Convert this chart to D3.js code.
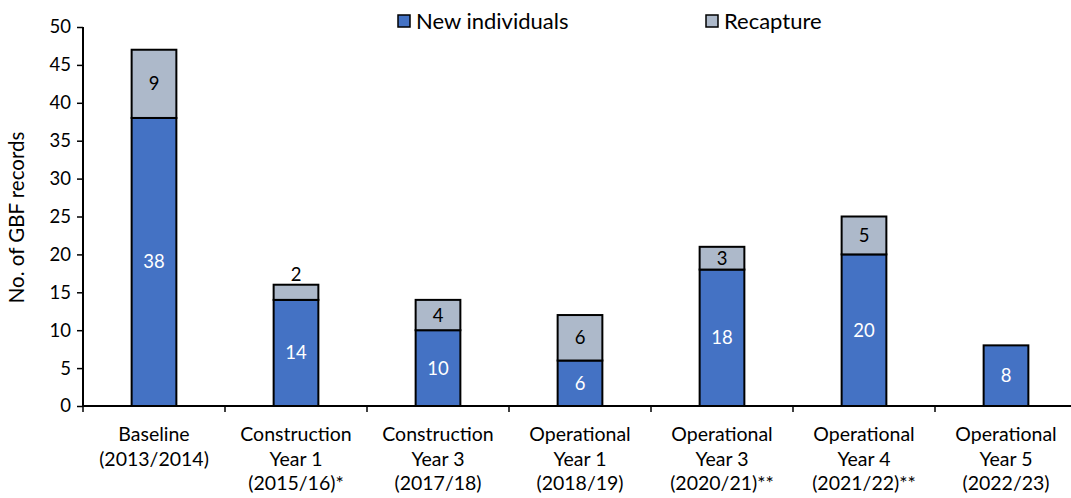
<!DOCTYPE html>
<html>
<head>
<meta charset="utf-8">
<script src="https://cdn.jsdelivr.net/npm/d3@7"></script>
<style>
  html, body { margin: 0; padding: 0; background: #fff; }
  svg { display: block; font-family: Lato, "Open Sans", sans-serif; }
</style>
</head>
<body>
<svg id="chart" width="1071" height="498"></svg>
<script>
// Survey periods (each label split into lines)
const categories = [
  ["Baseline", "(2013/2014)"],
  ["Construction", "Year 1", "(2015/16)*"],
  ["Construction", "Year 3", "(2017/18)"],
  ["Operational", "Year 1", "(2018/19)"],
  ["Operational", "Year 3", "(2020/21)**"],
  ["Operational", "Year 4", "(2021/22)**"],
  ["Operational", "Year 5", "(2022/23)"]
];
const newIndividuals = [38, 14, 10, 6, 18, 20, 8];
const recapture = [9, 2, 4, 6, 3, 5, 0];
const yTicks = [0, 5, 10, 15, 20, 25, 30, 35, 40, 45, 50];
const seriesNames = ["New individuals", "Recapture"];
const seriesColors = ["#4472C4", "#ADB9CA"];
const labelColors = ["#ffffff", "#000000"];

const svg = d3.select("#chart");
const plotLeft = 83, plotRight = 1077, plotTop = 27, plotBottom = 406;

const keys = categories.map(c => c.join(" "));
const x = d3.scaleBand().domain(keys).range([plotLeft, plotRight]).padding(0);
const y = d3.scaleLinear().domain([0, 50]).range([plotBottom, plotTop]);
const barW = x.bandwidth() * 0.315;

const rows = keys.map((k, i) => ({ key: k, n: newIndividuals[i], r: recapture[i] }));
const stacked = d3.stack().keys(["n", "r"])(rows);

// Stacked bars
stacked.forEach((layer, li) => {
  const g = svg.append("g");
  layer.forEach((d, i) => {
    if (d[1] - d[0] <= 0) return;
    const cx = x(rows[i].key) + x.bandwidth() / 2;
    g.append("rect")
      .attr("x", cx - barW / 2)
      .attr("y", y(d[1]))
      .attr("width", barW)
      .attr("height", y(d[0]) - y(d[1]))
      .attr("fill", seriesColors[li])
      .attr("stroke", "#000")
      .attr("stroke-width", 2);
  });
});

// Value labels (placed above the bar when the segment is too short)
stacked.forEach((layer, li) => {
  layer.forEach((d, i) => {
    const v = d[1] - d[0];
    if (v <= 0) return;
    const cx = x(rows[i].key) + x.bandwidth() / 2;
    const h = y(d[0]) - y(d[1]);
    const fits = h >= 20;
    const ty = fits ? (y(d[0]) + y(d[1])) / 2 : y(d[1]) - 10;
    svg.append("text")
      .attr("x", cx)
      .attr("y", ty)
      .attr("dy", "0.35em")
      .attr("text-anchor", "middle")
      .attr("font-size", 18.5)
      .attr("fill", fits ? labelColors[li] : "#000")
      .text(v);
  });
});

// Y axis
const yAxis = d3.axisLeft(y).tickValues(yTicks).tickSize(6).tickPadding(6);
const gy = svg.append("g").attr("transform", `translate(${plotLeft},0)`).call(yAxis);
gy.select(".domain").attr("stroke", "#000").attr("stroke-width", 2)
  .attr("d", `M0,${plotTop}V${plotBottom}`);
gy.selectAll(".tick line").attr("stroke", "#000").attr("stroke-width", 1.5);
gy.selectAll(".tick text").attr("font-size", 18.5).attr("fill", "#000")
  .attr("font-family", "Lato, 'Open Sans', sans-serif");

// X axis with ticks at category boundaries
const gx = svg.append("g");
gx.append("line").attr("x1", plotLeft).attr("x2", plotRight).attr("y1", plotBottom).attr("y2", plotBottom)
  .attr("stroke", "#000").attr("stroke-width", 2);
const edges = keys.map(k => x(k)).concat([plotRight]);
gx.selectAll("line.tk").data(edges).join("line").attr("class", "tk")
  .attr("x1", d => d).attr("x2", d => d)
  .attr("y1", plotBottom).attr("y2", plotBottom + 6)
  .attr("stroke", "#000").attr("stroke-width", 1.5);

categories.forEach((lines, i) => {
  const cx = x(keys[i]) + x.bandwidth() / 2;
  const t = gx.append("text").attr("text-anchor", "middle")
    .attr("font-size", 19.5).attr("fill", "#000");
  lines.forEach((ln, j) => {
    t.append("tspan").attr("x", cx).attr("y", 441 + j * 24.5).text(ln);
  });
});

// Y axis title
svg.append("text")
  .attr("transform", `translate(24,${(plotTop + plotBottom) / 2 + 1}) rotate(-90)`)
  .attr("text-anchor", "middle")
  .attr("font-size", 20.5)
  .attr("fill", "#000")
  .text("No. of GBF records");

// Legend
const legendX = [398, 706];
seriesNames.forEach((name, i) => {
  const g = svg.append("g").attr("transform", `translate(${legendX[i]},15)`);
  g.append("rect").attr("width", 12).attr("height", 12)
    .attr("fill", seriesColors[i]).attr("stroke", "#000").attr("stroke-width", 1.5);
  g.append("text").attr("x", 18).attr("y", 6).attr("dy", "0.35em")
    .attr("font-size", 22).attr("fill", "#000").text(name);
});
</script>
</body>
</html>
